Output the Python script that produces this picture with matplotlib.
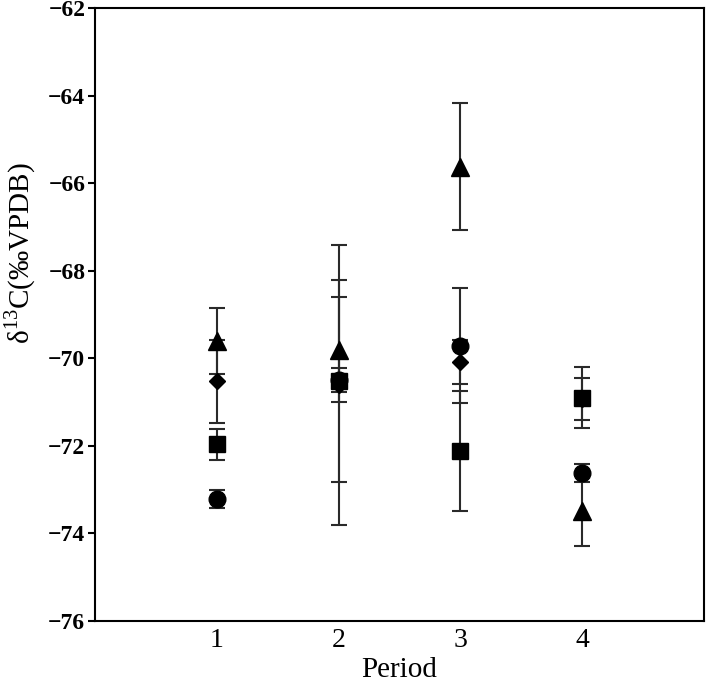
import numpy as np
import matplotlib
matplotlib.use("Agg")
from matplotlib import pyplot as plt

plt.rcParams['font.family'] = ['Liberation Serif', 'DejaVu Serif']
plt.rcParams['mathtext.fontset'] = 'custom'
plt.rcParams['mathtext.rm'] = 'Liberation Serif'

# data
period = [1, 2, 3, 4]
circle = [-73.21, -70.50, -69.71, -72.62]
circle_err = [0.21, 0.27, 1.31, 0.20]
square = [-71.97, -70.52, -72.12, -70.90]
square_err = [0.35, 2.30, 1.37, 0.70]
triangle = [-69.60, -69.80, -65.62, -73.50]
triangle_err = [0.75, 1.20, 1.45, 0.80]
diamond = [-70.53, -70.62, -70.09, -70.93]
diamond_err = [0.94, 3.20, 0.50, 0.48]

fig = plt.figure(figsize=(7.09, 6.89), dpi=100)
ax = fig.add_axes([0.134, 0.099, 0.859, 0.889])

series = [
    (circle, circle_err, 'o', 12),
    (diamond, diamond_err, 'D', 8.5),
    (triangle, triangle_err, '^', 13),
    (square, square_err, 's', 11.5),
]
for vals, err, mk, ms in series:
    ax.errorbar(period, vals, yerr=err, fmt=mk, color='black', ms=ms,
                ecolor='#2a2a2a', elinewidth=1.5, capsize=5.5, capthick=1.5)

ax.set_xlim(0, 5)
ax.set_ylim(-76, -62)
ax.set_xticks(period)
ax.set_yticks(np.arange(-76, -61, 2))
ax.set_yticklabels(['\u2212%d' % abs(v) for v in np.arange(-76, -61, 2)],
                   fontweight='bold')
ax.tick_params(axis='x', length=0, pad=5, labelsize=20)
ax.tick_params(axis='y', length=5, width=1.5, pad=2, labelsize=17, direction='out')
for s in ax.spines.values():
    s.set_linewidth(1.5)

ax.set_xlabel('Period', fontsize=21, labelpad=3)
ax.set_ylabel(r'δ$^{\mathrm{13}}$C(‰VPDB)', fontsize=21)
ax.yaxis.set_label_coords(-0.094, 0.60)

fig.savefig('out.png', dpi=100)
